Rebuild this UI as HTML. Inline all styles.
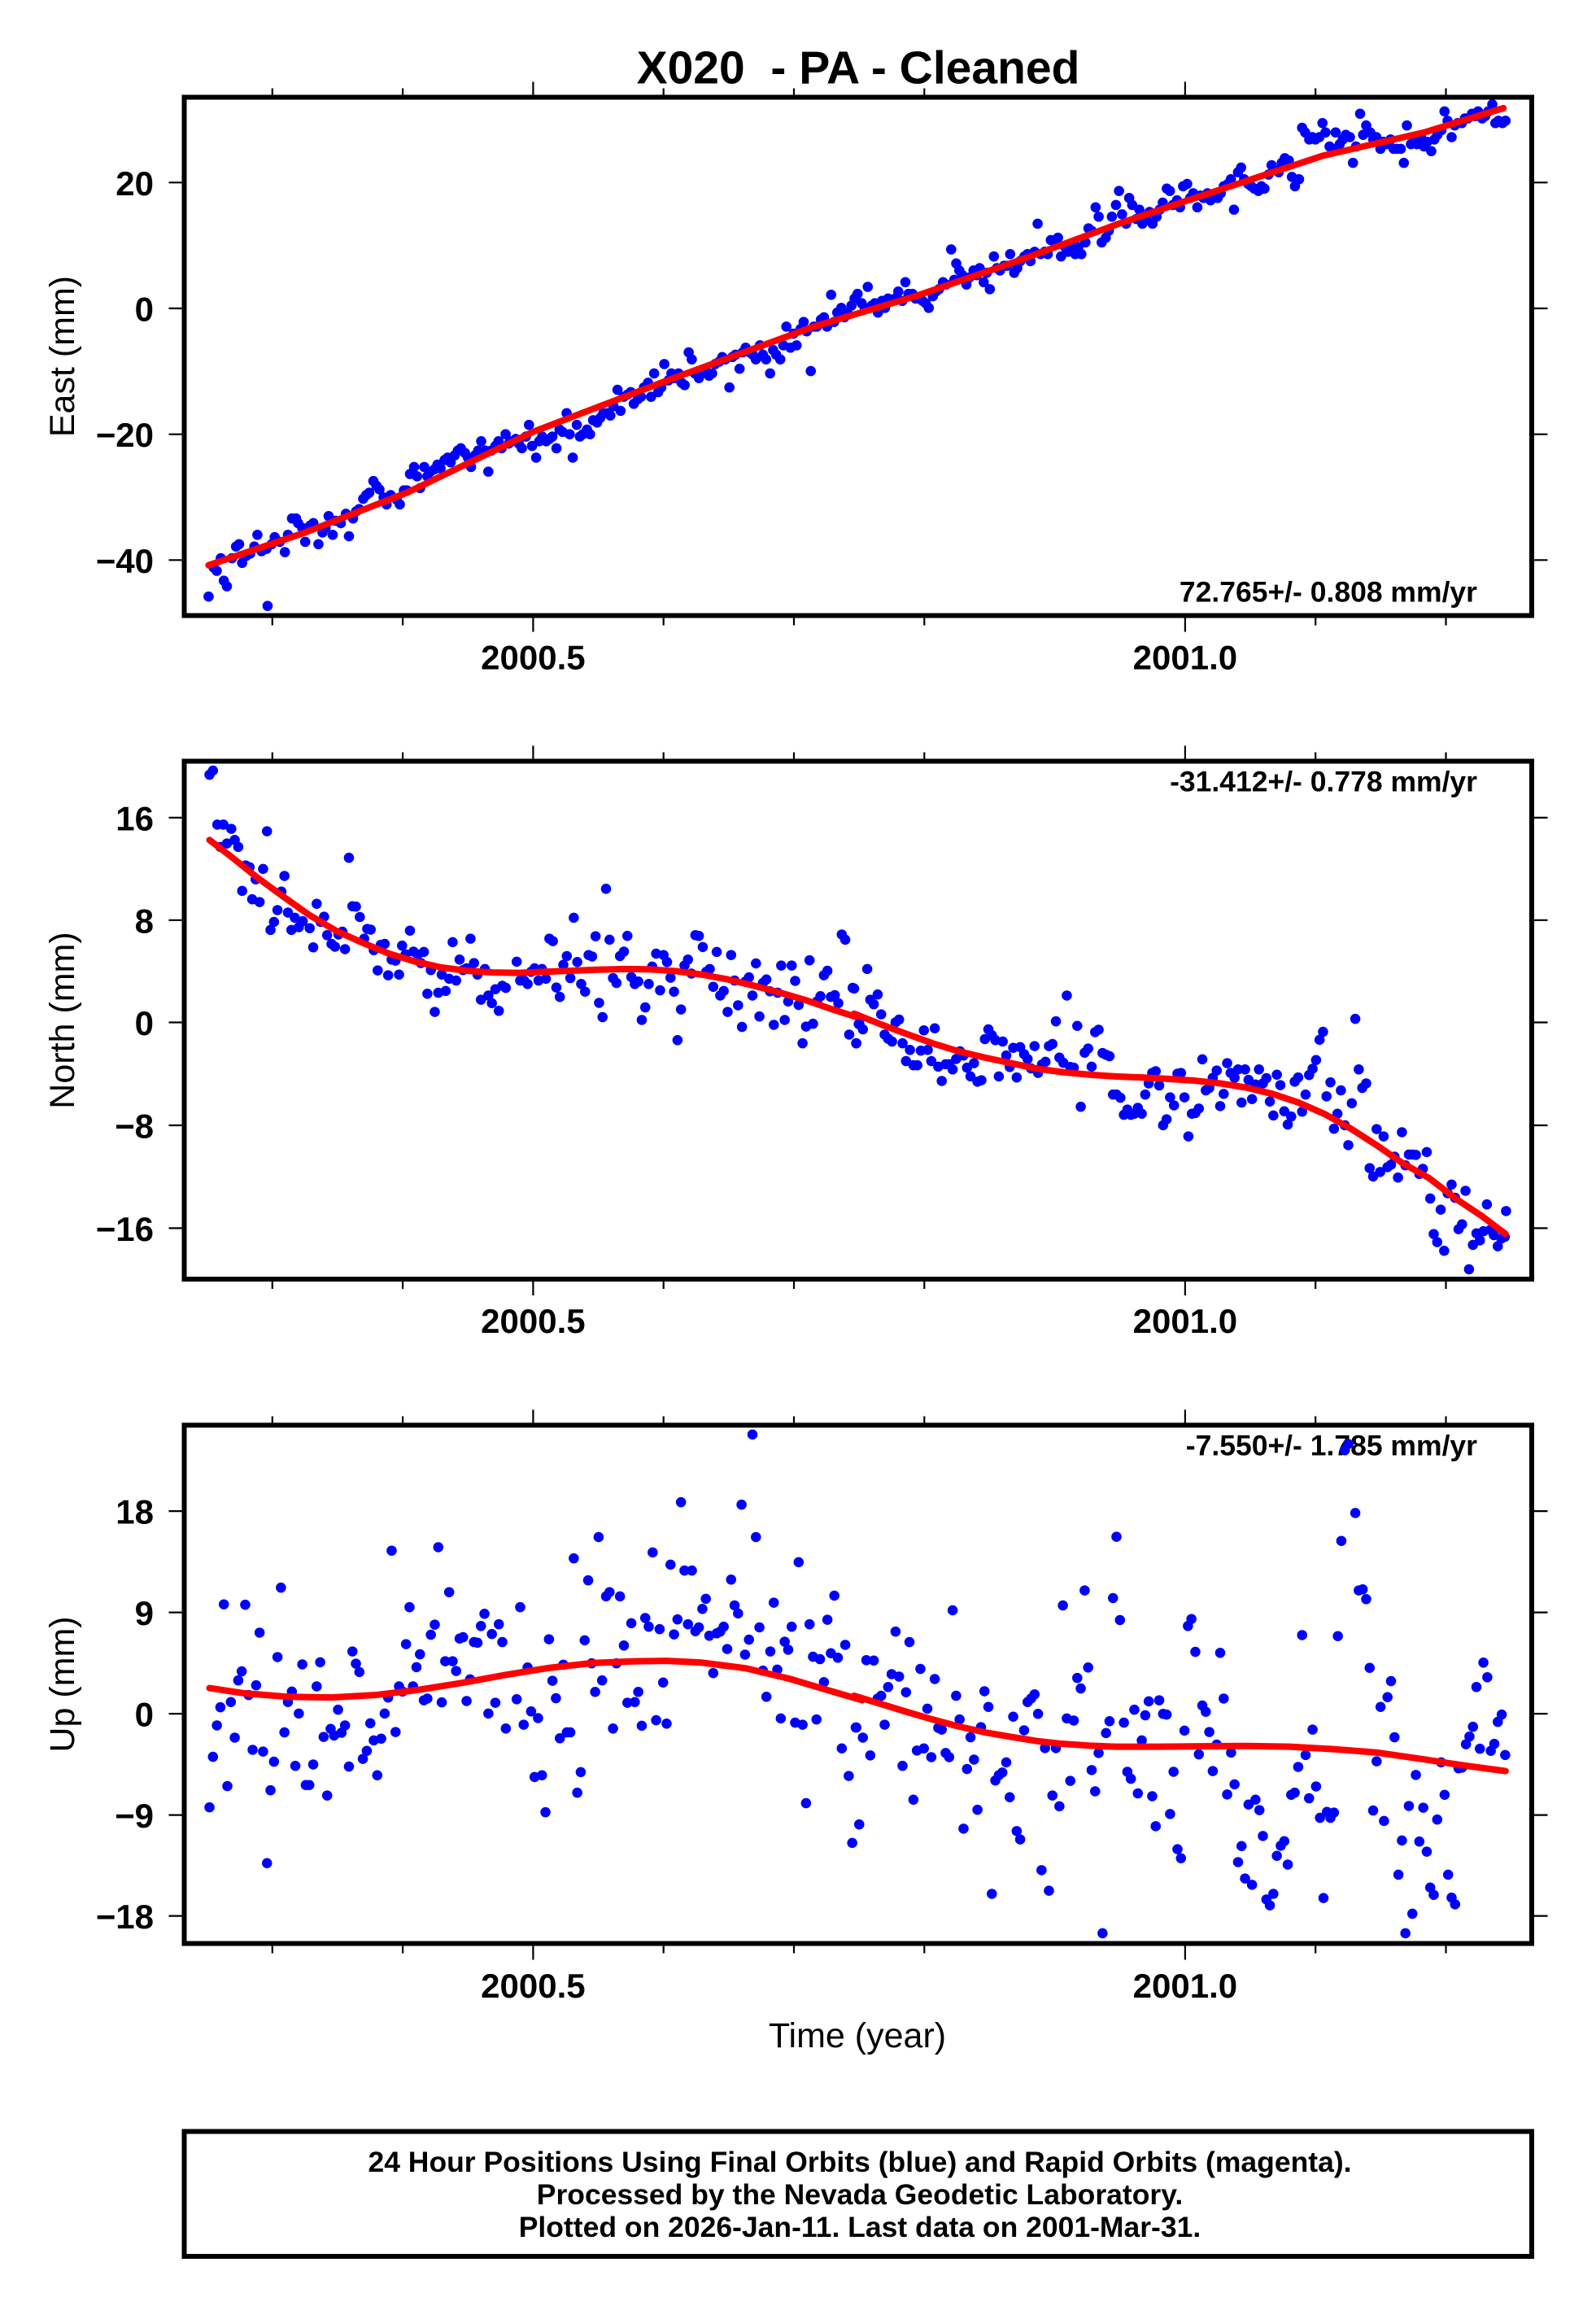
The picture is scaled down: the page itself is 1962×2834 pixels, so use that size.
<!DOCTYPE html>
<html><head><meta charset="utf-8"><style>
html,body{margin:0;padding:0;background:#fff;}
svg{display:block;}
text{font-family:"Liberation Sans",Arial,Helvetica,sans-serif;fill:#000;}
.b{font-weight:bold;}
.d{fill:none;stroke:#0000ff;stroke-linecap:round;stroke-width:12.5;}
.r{fill:none;stroke:#ff0000;stroke-width:8;stroke-linejoin:round;stroke-linecap:round;}
.fr{fill:none;stroke:#000;stroke-width:6;}
.tk{fill:none;stroke:#000;stroke-width:2.2;}
</style></head><body>
<svg width="1962" height="2834" viewBox="0 0 1962 2834" xmlns="http://www.w3.org/2000/svg">
<rect width="1962" height="2834" fill="#fff"/>
<text class="b" x="1055" y="102.5" font-size="57" text-anchor="middle" style="white-space:pre">X020  - PA - Cleaned</text>

<!-- ===== PLOT 1 ===== -->
<text class="b" x="1816" y="739.5" font-size="35.5" text-anchor="end">72.765+/- 0.808 mm/yr</text>
<g transform="translate(0,-1.1) scale(1.2505,0.575)">
<path class="d" vector-effect="non-scaling-stroke" d="M205 1277h.1M210 1215h.1M213 1222h.1M217 1195h.1M220 1243h.1M223 1255h.1M228 1195h.1M232 1170h.1M235 1165h.1M238 1205h.1M242 1190h.1M246 1185h.1M250 1170h.1M253 1145h.1M257 1180h.1M262 1175h.1M263 1297h.1M267 1165h.1M270 1150h.1M275 1160h.1M280 1182h.1M283 1145h.1M287 1110h.1M291 1110h.1M293 1120h.1M297 1130h.1M300 1160h.1M305 1125h.1M308 1120h.1M313 1165h.1M317 1140h.1M320 1130h.1M323 1105h.1M327 1145h.1M330 1115h.1M335 1120h.1M340 1100h.1M343 1148h.1M347 1110h.1M350 1095h.1M353 1090h.1M357 1068h.1M360 1060h.1M363 1055h.1M367 1030h.1M370 1040h.1M373 1048h.1M377 1065h.1M380 1080h.1M384 1060h.1M390 1070h.1M393 1080h.1M397 1050h.1M400 1050h.1M403 1015h.1M407 1000h.1M410 1020h.1M413 1045h.1M417 1000h.1M420 1020h.1M423 1010h.1M427 1005h.1M430 995h.1M433 1003h.1M437 985h.1M440 980h.1M443 990h.1M447 975h.1M450 965h.1M453 960h.1M457 970h.1M460 980h.1M463 1000h.1M467 975h.1M470 965h.1M473 945h.1M477 965h.1M480 1010h.1M483 965h.1M487 955h.1M490 945h.1M493 960h.1M497 930h.1M500 950h.1M503 945h.1M507 940h.1M510 950h.1M513 960h.1M517 935h.1M520 910h.1M523 955h.1M527 980h.1M530 945h.1M533 935h.1M537 945h.1M540 940h.1M543 935h.1M547 960h.1M550 920h.1M553 925h.1M557 885h.1M560 930h.1M563 980h.1M567 910h.1M570 935h.1M573 930h.1M577 920h.1M580 930h.1M583 900h.1M587 905h.1M590 895h.1M593 885h.1M597 885h.1M600 890h.1M603 870h.1M607 835h.1M610 880h.1M613 850h.1M617 845h.1M620 840h.1M623 865h.1M627 855h.1M630 850h.1M633 830h.1M637 820h.1M640 850h.1M643 800h.1M647 840h.1M650 830h.1M653 780h.1M657 815h.1M660 800h.1M663 810h.1M667 800h.1M670 820h.1M673 825h.1M677 755h.1M680 770h.1M683 800h.1M687 810h.1M690 800h.1M693 790h.1M697 805h.1M700 800h.1M703 780h.1M707 775h.1M710 765h.1M713 770h.1M717 830h.1M720 765h.1M723 760h.1M727 790h.1M730 755h.1M733 745h.1M737 755h.1M740 760h.1M743 770h.1M747 740h.1M750 760h.1M753 770h.1M757 800h.1M760 750h.1M763 760h.1M767 770h.1M770 740h.1M773 700h.1M777 745h.1M780 715h.1M783 740h.1M787 705h.1M790 690h.1M793 710h.1M797 795h.1M800 700h.1M803 700h.1M807 685h.1M810 680h.1M813 700h.1M817 632h.1M820 690h.1M823 670h.1M827 660h.1M830 680h.1M833 670h.1M837 655h.1M840 640h.1M843 630h.1M847 650h.1M850 660h.1M853 615h.1M857 655h.1M860 650h.1M863 670h.1M867 645h.1M870 660h.1M873 640h.1M877 645h.1M880 640h.1M883 625h.1M887 645h.1M890 605h.1M893 630h.1M897 630h.1M900 640h.1M903 640h.1M907 645h.1M910 650h.1M913 660h.1M917 635h.1M920 625h.1M923 620h.1M927 605h.1M930 610h.1M935 535h.1M938 600h.1M940 565h.1M943 580h.1M946 590h.1M950 610h.1M953 595h.1M957 580h.1M960 590h.1M963 575h.1M967 605h.1M970 585h.1M973 620h.1M977 550h.1M980 575h.1M983 580h.1M987 570h.1M990 570h.1M993 545h.1M997 585h.1M1000 575h.1M1003 560h.1M1007 550h.1M1010 545h.1M1013 560h.1M1017 540h.1M1020 480h.1M1023 545h.1M1027 540h.1M1030 545h.1M1033 515h.1M1037 520h.1M1040 510h.1M1043 550h.1M1047 530h.1M1050 540h.1M1053 525h.1M1057 545h.1M1060 530h.1M1063 545h.1M1067 520h.1M1070 490h.1M1073 495h.1M1077 445h.1M1080 465h.1M1083 520h.1M1087 510h.1M1090 495h.1M1093 465h.1M1097 440h.1M1100 410h.1M1103 460h.1M1107 480h.1M1110 425h.1M1113 440h.1M1117 470h.1M1120 450h.1M1123 480h.1M1127 470h.1M1130 455h.1M1133 480h.1M1137 465h.1M1140 450h.1M1143 435h.1M1147 405h.1M1150 410h.1M1153 440h.1M1157 430h.1M1160 445h.1M1163 400h.1M1167 395h.1M1170 425h.1M1173 415h.1M1177 445h.1M1180 420h.1M1183 425h.1M1187 415h.1M1190 430h.1M1193 420h.1M1197 425h.1M1200 415h.1M1203 400h.1M1207 395h.1M1210 385h.1M1213 450h.1M1217 370h.1M1220 360h.1M1223 385h.1M1227 395h.1M1230 400h.1M1233 405h.1M1237 410h.1M1240 400h.1M1243 405h.1M1247 375h.1M1250 355h.1M1253 365h.1M1257 370h.1M1260 350h.1M1263 340h.1M1267 345h.1M1270 380h.1M1273 400h.1M1277 385h.1M1280 275h.1M1283 285h.1M1287 300h.1M1290 295h.1M1293 300h.1M1297 295h.1M1300 265h.1M1303 285h.1M1307 315h.1M1310 320h.1M1313 285h.1M1317 310h.1M1320 300h.1M1323 290h.1M1327 295h.1M1330 350h.1M1333 315h.1M1337 245h.1M1340 290h.1M1343 270h.1M1347 285h.1M1350 300h.1M1353 295h.1M1357 320h.1M1360 305h.1M1363 310h.1M1367 300h.1M1370 320h.1M1373 320h.1M1377 320h.1M1380 350h.1M1383 270h.1M1387 310h.1M1390 300h.1M1393 310h.1M1397 295h.1M1400 315h.1M1403 305h.1M1407 325h.1M1410 300h.1M1413 290h.1M1417 280h.1M1420 240h.1M1423 260h.1M1427 295h.1M1430 270h.1M1433 265h.1M1437 265h.1M1440 255h.1M1443 255h.1M1447 245h.1M1450 250h.1M1453 240h.1M1457 255h.1M1460 250h.1M1463 240h.1M1467 225h.1M1470 265h.1M1473 260h.1M1477 265h.1M1480 260h.1"/>
<polyline class="r" vector-effect="non-scaling-stroke" points="205,1210 300,1140 400,1055 524,925 650,820 800,700 900,635 1000,560 1100,480 1165,432 1300,335 1400,285 1478,233"/>
</g>
<rect class="fr" x="226.5" y="119.5" width="1656.5" height="637"/>
<path class="tk" d="M334.8 119.5v-11M495.1 119.5v-11M815.7 119.5v-11M976 119.5v-11M1136.3 119.5v-11M1617.2 119.5v-11M1777.5 119.5v-11M655.4 119.5v-19M1456.9 119.5v-19M334.8 756.5v12M495.1 756.5v12M815.7 756.5v12M976 756.5v12M1136.3 756.5v12M1617.2 756.5v12M1777.5 756.5v12M655.4 756.5v20M1456.9 756.5v20M207.5 224.3H227M207.5 379H227M207.5 533.7H227M207.5 688.3H227M1883 224.3H1902.5M1883 379H1902.5M1883 533.7H1902.5M1883 688.3H1902.5"/>
<g class="b" font-size="42" text-anchor="end">
<text class="b" x="189" y="239.8">20</text>
<text class="b" x="189" y="394.5">0</text>
<text class="b" x="189" y="549.2">−20</text>
<text class="b" x="189" y="703.8">−40</text>
</g>
<text class="b" x="655.4" y="822.5" font-size="42" text-anchor="middle">2000.5</text>
<text class="b" x="1456.9" y="822.5" font-size="42" text-anchor="middle">2001.0</text>
<text transform="translate(91,438) rotate(-90)" font-size="43" text-anchor="middle">East (mm)</text>

<!-- ===== PLOT 2 ===== -->
<text class="b" x="1816" y="972.5" font-size="35.5" text-anchor="end">-31.412+/- 0.778 mm/yr</text>
<g transform="translate(220,920) scale(0.5357,0.4286)">
<path class="d" vector-effect="non-scaling-stroke" d="M70 75h.1M78 63h.1M88 218h.1M102 218h.1M120 230h.1M95 282h.1M110 272h.1M128 262h.1M136 282h.1M153 335h.1M162 340h.1M145 408h.1M176 375h.1M168 432h.1M185 440h.1M193 345h.1M202 237h.1M210 520h.1M218 497h.1M226 463h.1M235 410h.1M242 365h.1M250 470h.1M258 520h.1M266 485h.1M275 512h.1M284 495h.1M300 515h.1M308 570h.1M316 445h.1M325 497h.1M333 482h.1M340 535h.1M350 560h.1M358 568h.1M366 533h.1M375 525h.1M381 575h.1M390 313h.1M398 452h.1M406 453h.1M415 483h.1M425 545h.1M432 517h.1M440 519h.1M447 578h.1M456 636h.1M463 563h.1M472 560h.1M480 650h.1M488 605h.1M497 608h.1M505 648h.1M512 565h.1M520 590h.1M530 522h.1M538 582h.1M548 590h.1M555 615h.1M562 583h.1M570 703h.1M578 635h.1M587 755h.1M595 700h.1M603 648h.1M612 695h.1M620 660h.1M628 555h.1M636 665h.1M644 605h.1M652 635h.1M660 630h.1M669 545h.1M677 615h.1M685 648h.1M693 720h.1M702 632h.1M710 708h.1M718 730h.1M726 690h.1M734 752h.1M742 680h.1M750 686h.1M775 611h.1M783 665h.1M792 665h.1M800 675h.1M808 640h.1M816 630h.1M825 665h.1M833 632h.1M842 660h.1M850 545h.1M858 552h.1M866 685h.1M874 712h.1M882 620h.1M890 595h.1M898 658h.1M906 485h.1M914 612h.1M923 675h.1M932 697h.1M940 592h.1M948 596h.1M956 538h.1M964 729h.1M972 770h.1M980 402h.1M988 548h.1M996 658h.1M1004 672h.1M1012 595h.1M1021 582h.1M1029 537h.1M1038 655h.1M1046 675h.1M1054 668h.1M1062 778h.1M1070 742h.1M1078 675h.1M1086 625h.1M1095 588h.1M1104 693h.1M1112 592h.1M1120 612h.1M1128 657h.1M1136 697h.1M1144 836h.1M1152 748h.1M1160 622h.1M1168 605h.1M1176 645h.1M1185 535h.1M1193 537h.1M1202 569h.1M1210 640h.1M1218 632h.1M1226 683h.1M1234 583h.1M1242 708h.1M1250 695h.1M1259 755h.1M1267 592h.1M1275 665h.1M1283 736h.1M1292 798h.1M1300 668h.1M1308 656h.1M1316 708h.1M1324 616h.1M1332 768h.1M1340 672h.1M1348 662h.1M1356 696h.1M1365 792h.1M1374 700h.1M1382 622h.1M1390 778h.1M1398 725h.1M1406 622h.1M1414 666h.1M1422 735h.1M1431 845h.1M1439 797h.1M1447 607h.1M1455 789h.1M1464 725h.1M1472 710h.1M1480 650h.1M1488 637h.1M1496 712h.1M1505 707h.1M1513 730h.1M1521 533h.1M1529 548h.1M1538 820h.1M1546 686h.1M1554 845h.1M1560 790h.1"/>
<polyline class="r" vector-effect="non-scaling-stroke" points="70,262 120,310 180,370 240,425 300,478 360,522 420,556 480,587 540,610 600,627 660,637 720,642 780,643 840,640 900,637 960,634 1020,632 1080,633 1140,638 1200,648 1260,662 1320,680 1380,700 1440,722 1500,748 1568,775"/>
</g>
<g transform="translate(1050,920) scale(0.5357,0.4286)">
<path class="d" vector-effect="non-scaling-stroke" d="M30 632h.1M0 688h.1M37 720h.1M45 733h.1M54 705h.1M62 762h.1M12 790h.1M20 805h.1M5 845h.1M70 820h.1M78 832h.1M87 840h.1M95 785h.1M103 777h.1M111 845h.1M119 896h.1M128 864h.1M136 908h.1M145 908h.1M153 866h.1M160 808h.1M169 864h.1M177 896h.1M185 802h.1M193 912h.1M201 953h.1M210 905h.1M218 905h.1M226 920h.1M234 890h.1M243 868h.1M251 880h.1M259 915h.1M267 940h.1M275 902h.1M283 955h.1M292 951h.1M300 833h.1M308 805h.1M316 822h.1M324 836h.1M332 940h.1M341 840h.1M349 880h.1M357 913h.1M365 858h.1M373 943h.1M381 856h.1M390 876h.1M398 890h.1M406 917h.1M414 853h.1M422 930h.1M431 906h.1M439 898h.1M447 853h.1M455 847h.1M463 782h.1M471 886h.1M480 901h.1M488 708h.1M496 913h.1M504 915h.1M512 795h.1M520 1027h.1M529 872h.1M537 860h.1M545 912h.1M553 813h.1M561 806h.1M570 873h.1M578 878h.1M586 882h.1M594 992h.1M602 992h.1M611 1001h.1M619 1050h.1M627 1035h.1M635 1050h.1M643 1047h.1M651 1030h.1M660 1047h.1M668 992h.1M676 960h.1M684 930h.1M692 925h.1M700 966h.1M709 1080h.1M717 1063h.1M725 1000h.1M734 1023h.1M742 932h.1M750 930h.1M758 1000h.1M767 1112h.1M775 1047h.1M783 1045h.1M791 1032h.1M799 891h.1M807 980h.1M815 973h.1M823 944h.1M832 923h.1M840 1025h.1M848 990h.1M856 902h.1M864 930h.1M873 944h.1M881 920h.1M889 1015h.1M897 920h.1M905 950h.1M913 1005h.1M921 963h.1M929 920h.1M938 960h.1M946 945h.1M954 1012h.1M962 1052h.1M970 935h.1M978 965h.1M987 1040h.1M995 1078h.1M1003 1055h.1M1011 955h.1M1019 943h.1M1028 1041h.1M1036 992h.1M1044 936h.1M1052 918h.1M1060 893h.1M1068 835h.1M1076 812h.1M1084 997h.1M1093 957h.1M1101 1090h.1M1109 1047h.1M1117 980h.1M1126 1080h.1M1134 1137h.1M1142 1017h.1M1150 775h.1M1158 920h.1M1166 973h.1M1175 960h.1M1183 1203h.1M1191 1227h.1M1199 1091h.1M1207 1214h.1M1215 1112h.1M1224 1200h.1M1232 1193h.1M1240 1170h.1M1248 1230h.1M1257 1100h.1M1265 1195h.1M1273 1164h.1M1281 1164h.1M1289 1165h.1M1297 1220h.1M1305 1205h.1M1314 1157h.1M1322 1290h.1M1330 1392h.1M1338 1415h.1M1346 1322h.1M1354 1440h.1M1362 1275h.1M1371 1250h.1M1379 1288h.1M1387 1378h.1M1395 1364h.1M1403 1268h.1M1411 1493h.1M1420 1423h.1M1428 1390h.1M1436 1410h.1M1444 1384h.1M1452 1307h.1M1460 1380h.1M1468 1395h.1M1477 1427h.1M1485 1405h.1M1493 1400h.1M1496 1326h.1"/>
<polyline class="r" vector-effect="non-scaling-stroke" points="0,760 60,790 120,818 180,845 240,868 300,886 360,902 420,918 480,928 540,935 600,940 660,943 720,947 780,952 840,960 900,972 960,990 1020,1015 1080,1048 1140,1090 1200,1138 1260,1190 1320,1232 1380,1290 1440,1340 1495,1392"/>
</g>
<rect class="fr" x="226.5" y="935.5" width="1656.5" height="636.5"/>
<path class="tk" d="M334.8 935.5v-11M495.1 935.5v-11M815.7 935.5v-11M976 935.5v-11M1136.3 935.5v-11M1617.2 935.5v-11M1777.5 935.5v-11M655.4 935.5v-19M1456.9 935.5v-19M334.8 1572v12M495.1 1572v12M815.7 1572v12M976 1572v12M1136.3 1572v12M1617.2 1572v12M1777.5 1572v12M655.4 1572v20M1456.9 1572v20M207.5 1004.9H227M207.5 1130.8H227M207.5 1256.5H227M207.5 1383H227M207.5 1509.4H227M1883 1004.9H1902.5M1883 1130.8H1902.5M1883 1256.5H1902.5M1883 1383H1902.5M1883 1509.4H1902.5"/>
<g font-size="42" text-anchor="end">
<text class="b" x="189" y="1020.4">16</text>
<text class="b" x="189" y="1146.3">8</text>
<text class="b" x="189" y="1272">0</text>
<text class="b" x="189" y="1398.5">−8</text>
<text class="b" x="189" y="1524.9">−16</text>
</g>
<text class="b" x="655.4" y="1638" font-size="42" text-anchor="middle">2000.5</text>
<text class="b" x="1456.9" y="1638" font-size="42" text-anchor="middle">2001.0</text>
<text transform="translate(91,1254) rotate(-90)" font-size="43" text-anchor="middle">North (mm)</text>

<!-- ===== PLOT 3 ===== -->
<text class="b" x="1816" y="1788.5" font-size="35.5" text-anchor="end">-7.550+/- 1.785 mm/yr</text>
<g transform="translate(220,1736) scale(0.5357,0.4286)">
<path class="d" vector-effect="non-scaling-stroke" d="M70 1132h.1M78 987h.1M87 897h.1M95 845h.1M103 550h.1M111 1071h.1M119 830h.1M128 932h.1M136 768h.1M144 742h.1M152 551h.1M160 810h.1M169 967h.1M177 782h.1M185 631h.1M193 972h.1M202 1292h.1M210 1083h.1M218 1001h.1M226 701h.1M234 502h.1M242 917h.1M250 830h.1M259 800h.1M267 1013h.1M275 863h.1M283 722h.1M291 1068h.1M299 1068h.1M308 1009h.1M316 785h.1M324 716h.1M332 930h.1M340 1098h.1M348 907h.1M356 926h.1M365 852h.1M373 918h.1M381 897h.1M390 1015h.1M398 685h.1M406 720h.1M414 744h.1M422 993h.1M431 970h.1M439 891h.1M447 940h.1M455 1040h.1M464 935h.1M472 863h.1M480 817h.1M488 396h.1M497 916h.1M505 785h.1M513 800h.1M521 664h.1M529 558h.1M537 785h.1M545 730h.1M553 693h.1M562 825h.1M570 820h.1M578 637h.1M587 608h.1M595 386h.1M603 831h.1M611 713h.1M620 515h.1M628 713h.1M636 741h.1M644 648h.1M652 644h.1M660 827h.1M668 765h.1M677 658h.1M685 660h.1M693 612h.1M701 577h.1M710 863h.1M718 635h.1M726 832h.1M734 607h.1M742 658h.1M750 906h.1M775 822h.1M783 558h.1M791 895h.1M800 731h.1M808 857h.1M816 1045h.1M824 876h.1M833 1040h.1M841 1146h.1M849 650h.1M857 769h.1M865 819h.1M874 934h.1M882 723h.1M890 917h.1M898 917h.1M906 418h.1M914 1090h.1M922 1031h.1M931 653h.1M939 481h.1M947 719h.1M955 801h.1M963 357h.1M971 768h.1M980 527h.1M988 515h.1M996 906h.1M1004 719h.1M1012 527h.1M1021 668h.1M1029 832h.1M1038 604h.1M1046 830h.1M1054 801h.1M1062 898h.1M1070 589h.1M1078 614h.1M1087 401h.1M1095 882h.1M1103 621h.1M1111 774h.1M1119 892h.1M1128 436h.1M1136 636h.1M1144 593h.1M1152 257h.1M1160 453h.1M1168 607h.1M1177 453h.1M1185 627h.1M1193 616h.1M1201 563h.1M1209 534h.1M1217 640h.1M1226 747h.1M1234 633h.1M1242 628h.1M1250 614h.1M1258 678h.1M1267 479h.1M1275 553h.1M1283 576h.1M1291 264h.1M1299 694h.1M1308 651h.1M1316 63h.1M1324 357h.1M1332 616h.1M1340 740h.1M1348 815h.1M1357 685h.1M1365 545h.1M1373 737h.1M1381 877h.1M1390 657h.1M1398 680h.1M1406 614h.1M1414 889h.1M1422 429h.1M1431 895h.1M1439 1120h.1M1447 607h.1M1455 700h.1M1463 880h.1M1471 707h.1M1480 773h.1M1488 594h.1M1496 690h.1M1504 525h.1M1512 703h.1M1521 963h.1M1529 666h.1M1537 1042h.1M1545 1234h.1M1553 903h.1M1561 1181h.1"/>
<polyline class="r" vector-effect="non-scaling-stroke" points="70,790 150,805 250,815 350,817 450,810 550,795 650,775 750,752 850,732 950,718 1050,713 1120,712 1200,717 1300,733 1400,763 1500,800 1568,825"/>
</g>
<g transform="translate(1050,1736) scale(0.5357,0.4286)">
<path class="d" vector-effect="non-scaling-stroke" d="M5 903h.1M20 932h.1M28 710h.1M37 983h.1M45 711h.1M54 820h.1M62 812h.1M70 895h.1M78 787h.1M86 750h.1M95 628h.1M103 757h.1M111 1013h.1M119 802h.1M127 658h.1M136 1110h.1M144 969h.1M152 735h.1M160 963h.1M168 849h.1M177 988h.1M185 764h.1M193 904h.1M201 909h.1M210 976h.1M218 988h.1M226 567h.1M234 812h.1M242 880h.1M251 1193h.1M259 1022h.1M267 931h.1M275 995h.1M283 1139h.1M291 902h.1M299 799h.1M308 844h.1M316 1380h.1M324 1055h.1M332 1040h.1M340 1032h.1M349 1003h.1M357 1103h.1M365 872h.1M373 1200h.1M381 1224h.1M390 911h.1M398 830h.1M406 820h.1M414 808h.1M422 864h.1M430 1312h.1M438 962h.1M447 1371h.1M455 1098h.1M463 962h.1M471 1129h.1M479 553h.1M488 877h.1M496 1056h.1M504 883h.1M512 761h.1M520 791h.1M529 510h.1M537 731h.1M545 1025h.1M553 1086h.1M561 976h.1M570 1493h.1M578 919h.1M586 885h.1M594 532h.1M602 356h.1M610 595h.1M619 889h.1M627 1030h.1M635 1050h.1M643 852h.1M651 1092h.1M660 940h.1M668 868h.1M676 828h.1M684 1100h.1M692 1186h.1M700 825h.1M709 864h.1M717 866h.1M725 1151h.1M733 1030h.1M742 1252h.1M750 1278h.1M758 912h.1M766 612h.1M774 592h.1M783 686h.1M791 980h.1M799 840h.1M807 858h.1M815 916h.1M823 1028h.1M832 952h.1M840 689h.1M848 820h.1M856 1095h.1M865 975h.1M873 1066h.1M881 1289h.1M889 1243h.1M897 1336h.1M905 1124h.1M913 1354h.1M921 1110h.1M930 1140h.1M938 1214h.1M946 1396h.1M954 1413h.1M962 1380h.1M970 1271h.1M979 1242h.1M987 1229h.1M995 1296h.1M1003 1096h.1M1011 1090h.1M1019 1016h.1M1028 638h.1M1036 982h.1M1044 1106h.1M1052 909h.1M1060 1072h.1M1069 1162h.1M1077 1392h.1M1085 1145h.1M1093 1162h.1M1101 1147h.1M1110 641h.1M1118 368h.1M1126 108h.1M1134 90h.1M1150 288h.1M1158 510h.1M1167 507h.1M1175 535h.1M1183 732h.1M1191 1141h.1M1199 1000h.1M1208 844h.1M1216 1171h.1M1224 816h.1M1232 770h.1M1240 931h.1M1249 1325h.1M1257 1227h.1M1265 1493h.1M1273 1128h.1M1281 1437h.1M1289 1039h.1M1297 1230h.1M1306 1133h.1M1314 1259h.1M1322 1362h.1M1330 1383h.1M1338 1167h.1M1347 1003h.1M1355 1096h.1M1363 1325h.1M1371 1391h.1M1379 1410h.1M1387 1020h.1M1395 1018h.1M1404 951h.1M1412 929h.1M1420 901h.1M1428 787h.1M1436 964h.1M1444 717h.1M1453 759h.1M1461 970h.1M1469 950h.1M1477 887h.1M1486 866h.1M1494 982h.1"/>
<polyline class="r" vector-effect="non-scaling-stroke" points="0,812 60,835 120,858 180,880 240,900 300,917 360,930 420,942 480,950 540,955 600,958 700,958 800,957 900,956 1000,958 1100,965 1200,975 1300,993 1400,1012 1495,1028"/>
</g>
<rect class="fr" x="226.5" y="1751.5" width="1656.5" height="637"/>
<path class="tk" d="M334.8 1751.5v-11M495.1 1751.5v-11M815.7 1751.5v-11M976 1751.5v-11M1136.3 1751.5v-11M1617.2 1751.5v-11M1777.5 1751.5v-11M655.4 1751.5v-19M1456.9 1751.5v-19M334.8 2388.5v12M495.1 2388.5v12M815.7 2388.5v12M976 2388.5v12M1136.3 2388.5v12M1617.2 2388.5v12M1777.5 2388.5v12M655.4 2388.5v20M1456.9 2388.5v20M207.5 1857.1H227M207.5 1981.6H227M207.5 2106.1H227M207.5 2230.6H227M207.5 2354.6H227M1883 1857.1H1902.5M1883 1981.6H1902.5M1883 2106.1H1902.5M1883 2230.6H1902.5M1883 2354.6H1902.5"/>
<g font-size="42" text-anchor="end">
<text class="b" x="189" y="1872.6">18</text>
<text class="b" x="189" y="1997.1">9</text>
<text class="b" x="189" y="2121.6">0</text>
<text class="b" x="189" y="2246.1">−9</text>
<text class="b" x="189" y="2370.1">−18</text>
</g>
<text class="b" x="655.4" y="2455" font-size="42" text-anchor="middle">2000.5</text>
<text class="b" x="1456.9" y="2455" font-size="42" text-anchor="middle">2001.0</text>
<text transform="translate(91,2070) rotate(-90)" font-size="43" text-anchor="middle">Up (mm)</text>
<text x="1054" y="2516" font-size="43" text-anchor="middle">Time (year)</text>

<!-- ===== FOOTER ===== -->
<rect class="fr" x="226.5" y="2619.5" width="1656.5" height="153.5"/>
<g font-size="35.5" text-anchor="middle">
<text class="b" x="1057" y="2669">24 Hour Positions Using Final Orbits (blue) and Rapid Orbits (magenta).</text>
<text class="b" x="1057" y="2709">Processed by the Nevada Geodetic Laboratory.</text>
<text class="b" x="1057" y="2749">Plotted on 2026-Jan-11. Last data on 2001-Mar-31.</text>
</g>
</svg>
</body></html>
